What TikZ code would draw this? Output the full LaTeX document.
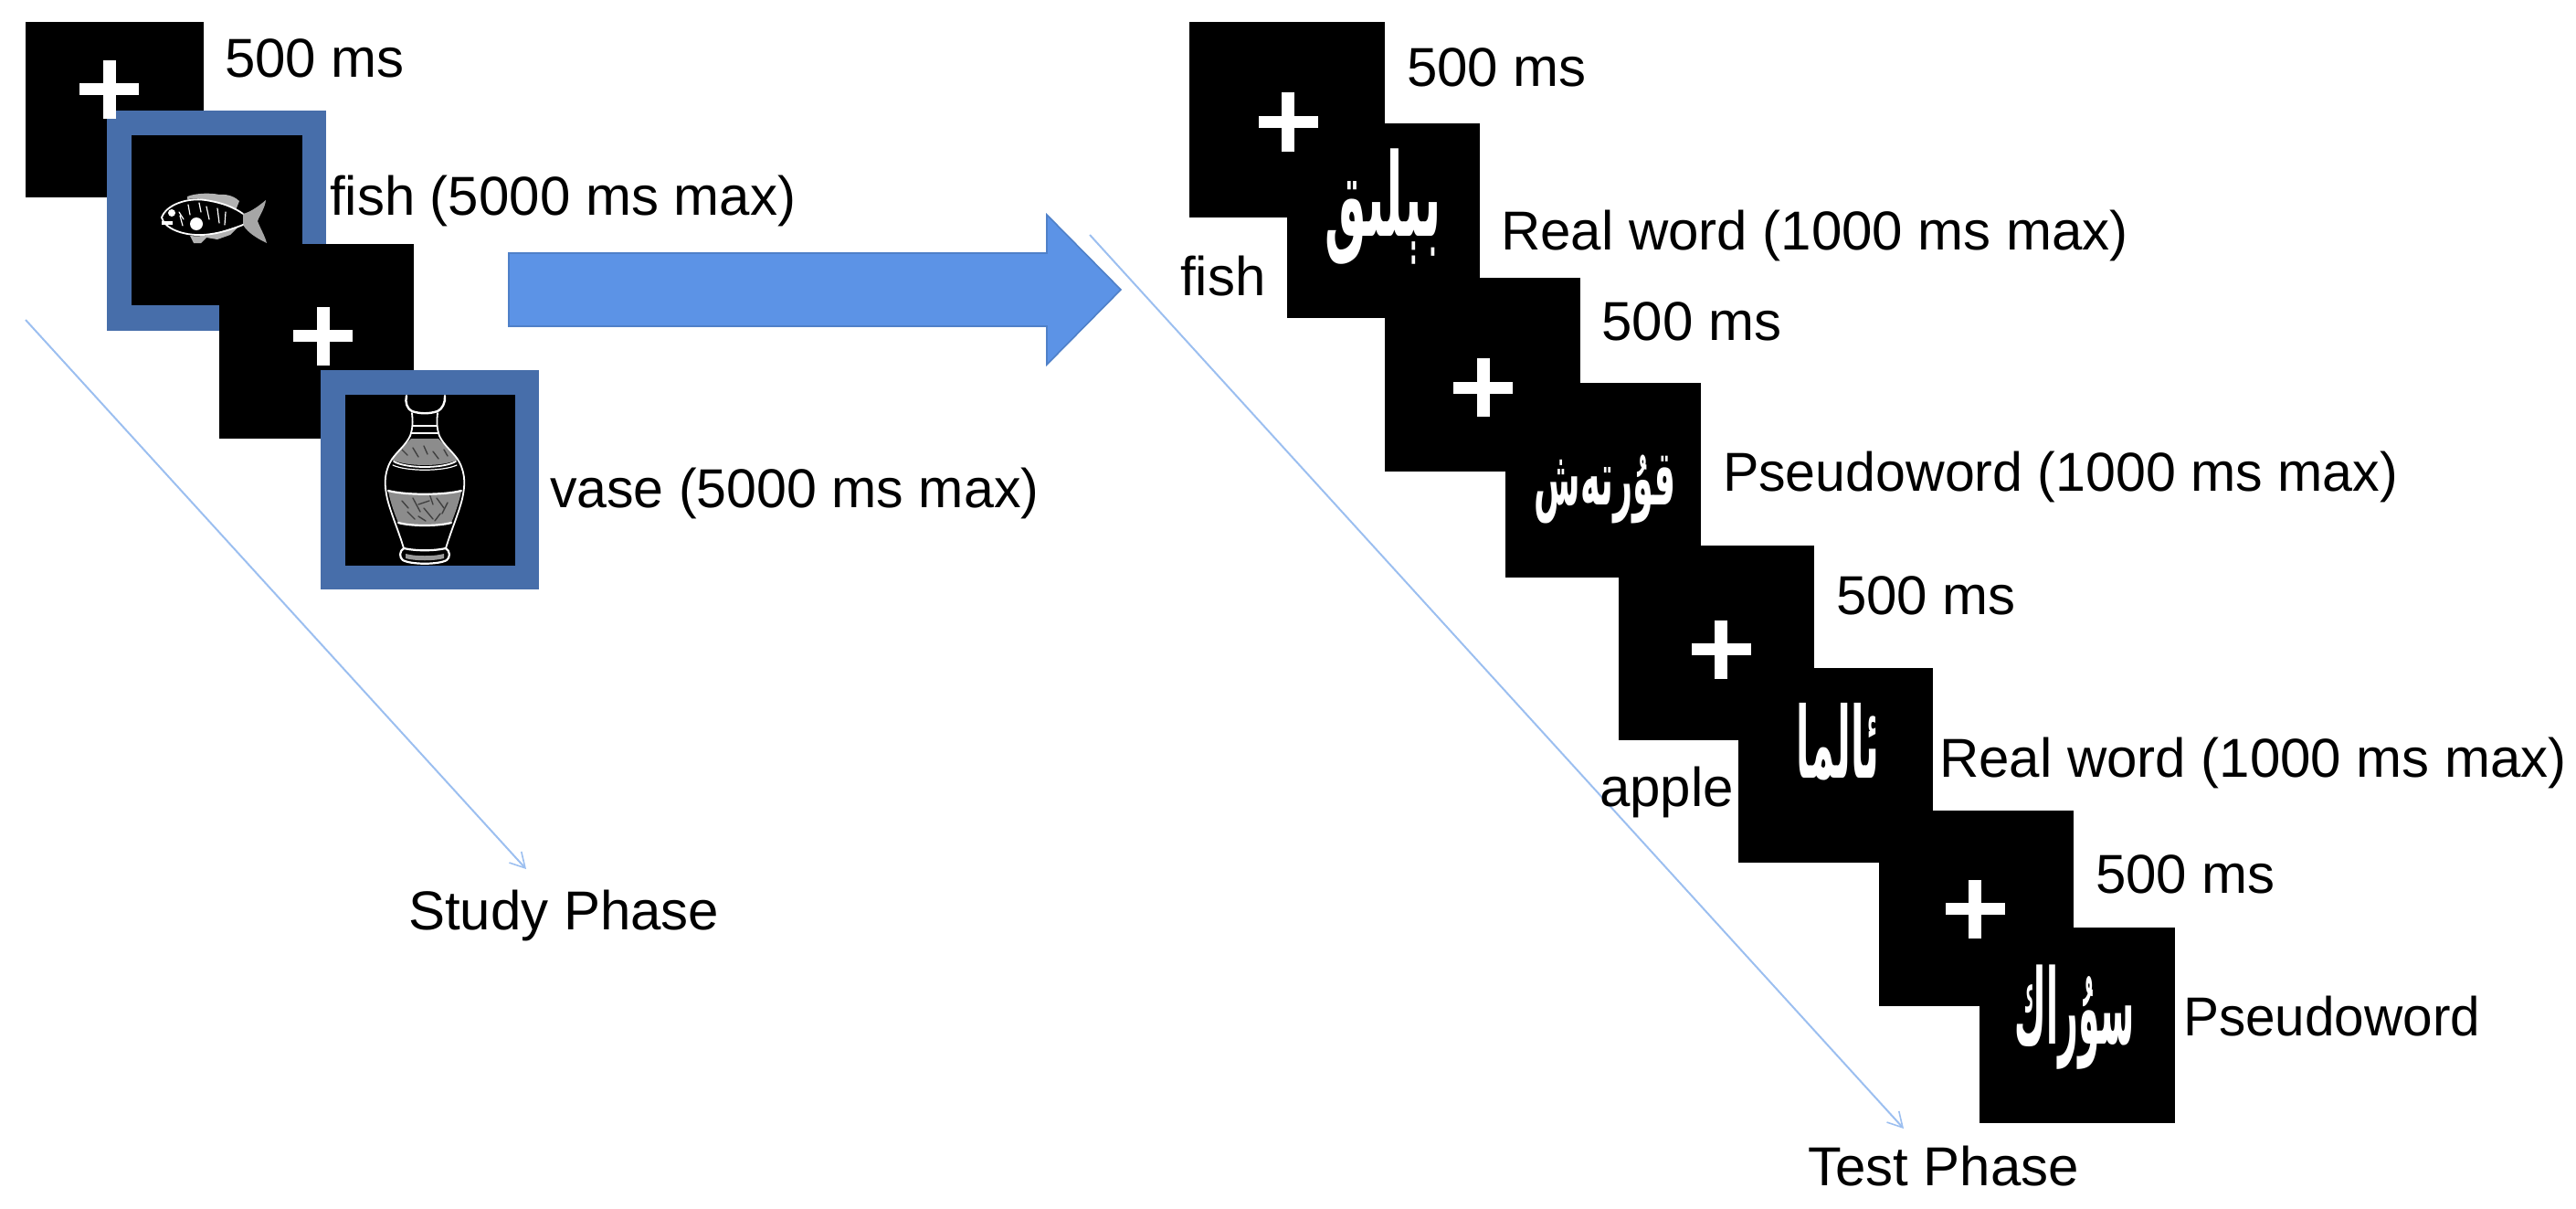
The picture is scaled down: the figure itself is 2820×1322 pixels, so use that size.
\documentclass[tikz,border=0pt]{standalone}
\usepackage{graphicx}
\usepackage{fontspec}
\setmainfont{Liberation Sans}
\newfontfamily\arabicfont[Script=Arabic]{DejaVu Sans}
\TeXXeTstate=1
\usetikzlibrary{arrows.meta}
\definecolor{framec}{HTML}{476EAA}
\definecolor{arrowc}{HTML}{5C93E6}
\definecolor{arrowe}{HTML}{4F80C8}
\definecolor{linec}{HTML}{9CBFF0}
\tikzset{
  blackbox/.style={fill=black,draw=none,inner sep=0pt,outer sep=0pt,anchor=north west},
  framebox/.style={fill=framec,draw=none,inner sep=0pt,outer sep=0pt,anchor=north west},
  lbl/.style={anchor=base west,inner sep=0pt,outer sep=0pt,font=\fontsize{30}{34}\selectfont,text=black},
  arw/.style={text=white,inner sep=0pt,font=\arabicfont\bfseries\fontsize{30}{40}\selectfont},
  phaseline/.style={draw=linec,line width=1pt,-{Straight Barb[length=8pt,width=9pt,line width=.8pt]}},
  art/.style={draw=white,line width=.9pt,line join=round,line cap=round},
  tex/.style={draw=black!75,line width=.7pt,line cap=round},
}
\newcommand{\stim}[6]{\node[#2,minimum width={(#5-#3)*0.5pt},minimum height={(#6-#4)*0.5pt}] (#1) at (#3,#4) {};}
\newcommand{\fixcross}[3]{%
  \fill[white] (#2-32.5,#3-6.5) rectangle (#2+32.5,#3+6.5);
  \fill[white] (#2-7,#3-32) rectangle (#2+7,#3+32);
  \coordinate (#1) at (#2,#3);}
\begin{document}
\begin{tikzpicture}[x=0.5pt,y=-0.5pt]
\useasboundingbox (0,0) rectangle (2820,1322);
% ---- study phase
\stim{sa}{blackbox}{28}{24.5}{223}{216}
\stim{ff}{framebox}{117}{121}{357}{362}
\stim{fi}{blackbox}{144}{148}{330.5}{334}
\stim{sb}{blackbox}{239.5}{266.5}{453}{480}
\stim{vf}{framebox}{351}{405}{590}{645}
\stim{vi}{blackbox}{378}{432}{564}{619}
\fixcross{ca}{119.5}{98}
\fixcross{cb}{353.5}{367.5}
% fish
\fill[white!70!black] (205,215) .. controls (215,211) and (232,211) .. (240,213) .. controls (250,212) and (258,216) .. (262,220) -- (258,230) .. controls (240,220) and (220,216) .. (205,218) -- cycle;
\fill[white!70!black] (208,258) -- (212,266) -- (220,266) -- (226,260) -- (238,262) -- (252,257) -- (262,247) -- (240,254) .. controls (228,258) and (218,259) .. (208,258) -- cycle;
\fill[white!65!black] (266,234) .. controls (275,232) and (285,224) .. (291,219) .. controls (290,228) and (284,236) .. (282,242) .. controls (285,250) and (290,258) .. (292,266) .. controls (284,262) and (272,256) .. (266,246) -- cycle;
\draw[art] (177,238) .. controls (182,224) and (205,216) .. (225,219) .. controls (245,222) and (258,228) .. (266,234);
\draw[art] (177,238) .. controls (180,250) and (200,258) .. (222,257) .. controls (240,256) and (256,250) .. (266,246);
\fill[white] (188,233) circle (4);
\draw[white,line width=1.6pt] (177,244) -- (189,244);
\fill[white] (215,245) circle (7);
\draw[art,line width=.6pt] (196,232) -- (201,240) (197,236) -- (200,247) (206,224) -- (208,235) (226,226) -- (229,240) (238,228) -- (240,244) (247,232) -- (246,246) (218,222) -- (220,232);
% vase
\fill[white!55!black] (450,480) .. controls (445,486) and (434,494) .. (429,503) .. controls (445,511) and (485,511) .. (501,503) .. controls (496,494) and (485,486) .. (480,480) -- cycle;
\fill[white!55!black] (425,538) .. controls (445,541) and (485,541) .. (505,538) .. controls (502,552) and (497,565) .. (494,572) .. controls (480,576) and (450,576) .. (436,572) .. controls (433,565) and (428,552) .. (425,538) -- cycle;
\foreach \a/\b/\c/\d in {440/492/446/498,452/490/458/500,464/488/468/497,474/494/480/502,486/492/490/499,
  440/548/447/556,452/545/460/560,458/552/470/548,464/556/474/568,478/545/486/556,490/550/484/562,446/560/454/568,470/540/474/552,458/565/466/570,482/562/476/570}
  \draw[tex] (\a,\b) -- (\c,\d);
\draw[art] (451,452) .. controls (452,462) and (452,468) .. (449,477) .. controls (444,488) and (432,496) .. (427,506) .. controls (420,520) and (421,532) .. (424,546) .. controls (428,562) and (436,580) .. (442,600);
\draw[art] (479,452) .. controls (478,462) and (478,468) .. (481,477) .. controls (486,488) and (498,496) .. (503,506) .. controls (510,520) and (509,532) .. (506,546) .. controls (502,562) and (494,580) .. (488,600);
\draw[art,line width=1.2pt] (445,433) .. controls (443,440) and (446,448) .. (451,450) .. controls (460,453) and (470,453) .. (479,450) .. controls (484,448) and (488,440) .. (487,433);
\draw[art,line width=1.4pt] (452,466) -- (478,466);
\draw[art] (450,474) -- (480,474);
\draw[art] (431,505) .. controls (445,513) and (485,513) .. (499,505);
\draw[art,line width=.6pt] (430,509) .. controls (445,516) and (485,516) .. (500,509);
\draw[art,line width=1.1pt] (425,537) .. controls (445,542) and (485,542) .. (505,537);
\draw[art,line width=1.1pt] (436,572) .. controls (450,576) and (480,576) .. (494,572);
\draw[art,line width=1.1pt] (442,600) .. controls (437,603) and (437,610) .. (441,613) .. controls (450,618) and (480,618) .. (489,613) .. controls (493,610) and (493,603) .. (488,600) .. controls (475,603) and (455,603) .. (442,600);
\fill[white!60!black] (444,606) .. controls (455,609) and (475,609) .. (486,606) -- (486,611) .. controls (475,614) and (455,614) .. (444,611) -- cycle;
% block arrow
\draw[fill=arrowc,draw=arrowe,line width=.8pt] (557,277) -- (1146,277) -- (1146,235) -- (1227,317) -- (1146,399) -- (1146,357) -- (557,357) -- cycle;
% phase lines
\coordinate (sl0) at (28,350);
\coordinate (sl1) at (576,951);
\coordinate (tl0) at (1193,257);
\coordinate (tl1) at (2084,1235);
\draw[phaseline] (sl0) -- (sl1);
\draw[phaseline] (tl0) -- (tl1);
% ---- test phase
\stim{t1}{blackbox}{1302}{24}{1516}{238}
\stim{t2}{blackbox}{1408.5}{135}{1620}{348}
\stim{t3}{blackbox}{1516}{304}{1730}{516}
\stim{t4}{blackbox}{1648}{419}{1862}{632}
\stim{t5}{blackbox}{1772}{597}{1986}{810}
\stim{t6}{blackbox}{1903}{730.5}{2116}{943.6}
\stim{t7}{blackbox}{2057}{887}{2270}{1100.6}
\stim{t8}{blackbox}{2167}{1015}{2380.5}{1229}
\fixcross{c1}{1410}{133.5}
\fixcross{c3}{1623.5}{424}
\fixcross{c5}{1884}{710.5}
\fixcross{c7}{2162}{994.5}
\node[arw] (w1) at (1514,226) {\scalebox{0.85}[2.1]{\beginR بېلىق\endR}};
\node[arw] (w2) at (1757,535) {\scalebox{0.61}[1.4]{\beginR قۇرتەش\endR}};
\node[arw] (w3) at (2012,812) {\scalebox{0.7}[1.8]{\beginR ئالما\endR}};
\node[arw] (w4) at (2271,1113) {\scalebox{0.63}[1.9]{\beginR سۇراك\endR}};
% labels
\node[lbl] (l1) at (246,85) {500 ms};
\node[lbl] (l2) at (361,235) {fish (5000 ms max)};
\node[lbl] (l3) at (602,555) {\scalebox{0.985}[1]{vase (5000 ms max)}};
\node[lbl] (l4) at (447,1017) {Study Phase};
\node[lbl] (l5) at (1540,94.7) {500 ms};
\node[lbl] (l6) at (1643,273.6) {Real word (1000 ms max)};
\node[lbl] (l7) at (1292,323) {fish};
\node[lbl] (l8) at (1753.6,372.5) {500 ms};
\node[lbl] (l9) at (1886,537.5) {\scalebox{0.985}[1]{Pseudoword (1000 ms max)}};
\node[lbl] (l10) at (2010,672.6) {500 ms};
\node[lbl] (l11) at (2123,850) {Real word (1000 ms max)};
\node[lbl] (l12) at (1751,882.7) {apple};
\node[lbl] (l13) at (2294,977) {500 ms};
\node[lbl] (l14) at (2390,1133.7) {\scalebox{0.975}[1]{Pseudoword}};
\node[lbl] (l15) at (1979,1297) {Test Phase};
\end{tikzpicture}
\end{document}
